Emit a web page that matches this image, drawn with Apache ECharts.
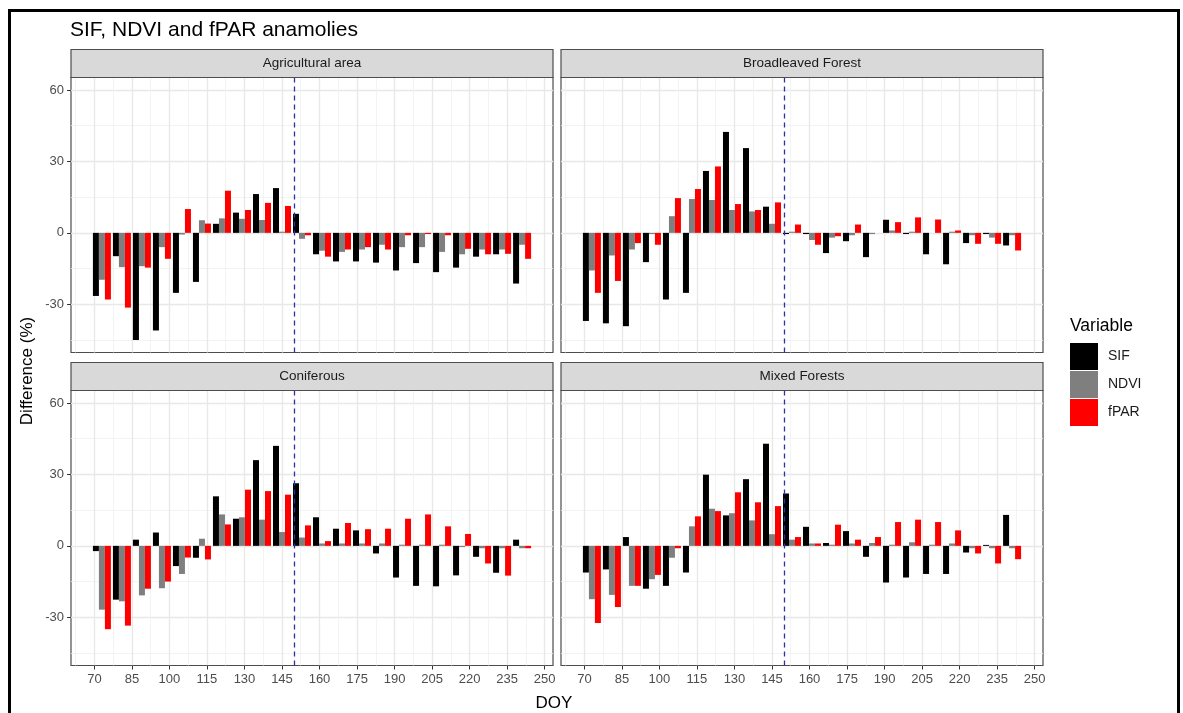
<!DOCTYPE html>
<html>
<head>
<meta charset="utf-8">
<script src="https://cdn.jsdelivr.net/npm/echarts@6/dist/echarts.min.js"></script>
<style>
  html, body { margin: 0; padding: 0; background: #fff; }
  #chart { width: 1183px; height: 713px; }
</style>
</head>
<body>
<div id="chart"></div>
<script>
// 8-day composite start days (DOY)
const doy = [73, 81, 89, 97, 105, 113, 121, 129, 137, 145, 153, 161, 169, 177, 185, 193, 201, 209, 217, 225, 233, 241];

// Anomalies (%) per land-cover class
const agSIF  = [-26.5, -9.8, -45, -41, -25.2, -20.6, 3.8, 8.5, 16.3, 18.8, 8, -9, -12, -12, -12.5, -15.8, -12.7, -16.5, -14.6, -10, -9, -21.3];
const agNDVI = [-19.7, -14.4, -14, -6, -0.7, 5.3, 6.1, 5.9, 5.4, 0.5, -2.5, -7.5, -8, -7, -5, -6, -6, -8, -9, -7, -7, -5];
const agFPAR = [-28, -31.4, -14.6, -10.9, 10, 3.9, 17.7, 9.6, 12.6, 11.3, -1, -10, -7, -6, -7, -1, -0.5, -1, -6.7, -9, -8.8, -10.9];

const blSIF  = [-37, -38, -39.2, -12.3, -28, -25.2, 26, 42.4, 35.6, 11, -0.5, -0.5, -8.5, -3.5, -10.2, 5.5, -0.5, -9, -13.2, -4.3, -0.5, -5.3];
const blNDVI = [-15.8, -9.5, -7, -0.5, 7, 14.2, 13.8, 9.6, 9, 3.8, 0.5, -3, -2, -1, -0.5, 1, 0.5, 0, 0.5, -1, -2, -1];
const blFPAR = [-25.2, -20.2, -4.3, -5, 14.6, 18.4, 27.9, 12.1, 9.6, 12.8, 3.5, -5, -1.4, 3.5, 0, 4.5, 6.5, 5.6, 1, -4.6, -4.6, -7.4];

const cfSIF  = [-2.2, -22.6, 2.6, 5.6, -8.5, -5, 20.8, 11.4, 36, 42, 26.3, 12, 7.2, 6.5, -3.2, -13.3, -16.8, -17, -12.4, -4.6, -11.3, 2.6];
const cfNDVI = [-26.8, -23.3, -20.8, -17.8, -11.8, 3, 13.2, 12, 11, 5.8, 3.5, 1, 1, 1, 1, 0.5, 0.5, 0.5, -0.5, -1, -1, -1];
const cfFPAR = [-35, -33.5, -18, -15, -4.9, -5.7, 9, 23.6, 23, 21.5, 8.6, 2, 9.6, 7, 7.2, 11.4, 13.2, 8.2, 5, -7.4, -12.5, -1];

const mxSIF  = [-11.2, -9.9, 3.7, -18, -16.8, -11.2, 29.9, 12.8, 28, 42.9, 22, 8, 1.2, 6.2, -4.6, -15.4, -13.3, -11.8, -11.8, -2.8, 0.4, 13];
const mxNDVI = [-22.4, -20.6, -16.8, -14, -5, 8.2, 15.6, 13.7, 10.7, 4.9, 2.6, 1, 0.5, 1, 1.2, 0.5, 1.5, 0.5, 1, -1, -1, -1];
const mxFPAR = [-32.4, -25.7, -16.8, -12.2, -1, 12.4, 14.6, 22.5, 18.3, 16.7, 3.7, 1, 8.9, 2.6, 3.7, 10, 11, 10, 6.5, -3.2, -7.4, -5.6];

const facetNames = ['Agricultural area', 'Broadleaved Forest', 'Coniferous', 'Mixed Forests'];
const variables = ['SIF', 'NDVI', 'fPAR'];
const eventDOY = 150;

// axis breaks
const xTicks = [70, 85, 100, 115, 130, 145, 160, 175, 190, 205, 220, 235, 250];
const xMinor = [62.5, 77.5, 92.5, 107.5, 122.5, 137.5, 152.5, 167.5, 182.5, 197.5, 212.5, 227.5, 242.5];
const yTicks = [-30, 0, 30, 60];
const yMinor = [-45, -15, 15, 45];

const facetData = [
  [agSIF, agNDVI, agFPAR],
  [blSIF, blNDVI, blFPAR],
  [cfSIF, cfNDVI, cfFPAR],
  [mxSIF, mxNDVI, mxFPAR]
];

// ---- styling / layout ----
const FONT = '"Liberation Sans", Arial, Helvetica, sans-serif';
const colors = ['#000000', '#7f7f7f', '#ff0000'];
const xRange = [60.64, 253.36];
const yRange = [-50.25, 65.25];
const groupWidth = 7.2;                  // dodge width in DOY units
const barW = groupWidth / variables.length;
const panelW = 482, panelH = 275, stripH = 28;
const panels = [
  { left: 71,  top: 77.5,  bottom: false, leftCol: true },
  { left: 561, top: 77.5,  bottom: false, leftCol: false },
  { left: 71,  top: 390.5, bottom: true,  leftCol: true },
  { left: 561, top: 390.5, bottom: true,  leftCol: false }
];

const grids = [], xAxes = [], yAxes = [], series = [], graphics = [];

panels.forEach((p, i) => {
  grids.push({
    left: p.left, top: p.top, width: panelW, height: panelH,
    show: true, backgroundColor: '#ffffff', borderColor: '#4d4d4d', borderWidth: 1.2
  });

  // minor grid lines (drawn first)
  xAxes.push({
    type: 'value', gridIndex: i, min: xRange[0], max: xRange[1], position: 'bottom',
    axisLine: { show: false, onZero: false },
    axisTick: { show: false, customValues: xMinor },
    axisLabel: { show: false, customValues: xMinor },
    splitLine: { show: true, lineStyle: { color: '#f0f0f0', width: 0.8 } }
  });
  // major axis
  xAxes.push({
    type: 'value', gridIndex: i, min: xRange[0], max: xRange[1], position: 'bottom',
    axisLine: { show: false, onZero: false },
    axisTick: { show: p.bottom, customValues: xTicks, length: 4, lineStyle: { color: '#333', width: 1 } },
    axisLabel: { show: p.bottom, customValues: xTicks, color: '#4d4d4d', fontSize: 13, fontFamily: FONT, margin: 7 },
    splitLine: { show: true, lineStyle: { color: '#e8e8e8', width: 1.4 } }
  });
  yAxes.push({
    type: 'value', gridIndex: i, min: yRange[0], max: yRange[1], position: 'left',
    axisLine: { show: false, onZero: false },
    axisTick: { show: false, customValues: yMinor },
    axisLabel: { show: false, customValues: yMinor },
    splitLine: { show: true, lineStyle: { color: '#f0f0f0', width: 0.8 } }
  });
  yAxes.push({
    type: 'value', gridIndex: i, min: yRange[0], max: yRange[1], position: 'left',
    axisLine: { show: false, onZero: false },
    axisTick: { show: p.leftCol, customValues: yTicks, length: 4, lineStyle: { color: '#333', width: 1 } },
    axisLabel: { show: p.leftCol, customValues: yTicks, color: '#4d4d4d', fontSize: 13, fontFamily: FONT, margin: 7 },
    splitLine: { show: true, lineStyle: { color: '#e8e8e8', width: 1.4 } }
  });

  const xa = 2 * i + 1, ya = 2 * i + 1;

  variables.forEach((name, j) => {
    const offset = (j - (variables.length - 1) / 2) * barW;
    const vals = facetData[i][j];
    series.push({
      type: 'custom', name: name, xAxisIndex: xa, yAxisIndex: ya, z: 3,
      itemStyle: { color: colors[j] },
      data: doy.map((d, k) => [d + offset, vals[k]]),
      renderItem: (params, api) => {
        const x = api.value(0), v = api.value(1);
        const a = api.coord([x - barW / 2, 0]);
        const b = api.coord([x + barW / 2, v]);
        return {
          type: 'rect',
          shape: { x: a[0], y: Math.min(a[1], b[1]), width: b[0] - a[0], height: Math.abs(b[1] - a[1]) },
          style: { fill: colors[j] }
        };
      }
    });
  });

  // dashed reference line
  series.push({
    type: 'line', name: 'event', xAxisIndex: xa, yAxisIndex: ya, z: 5,
    data: [[eventDOY, yRange[0]], [eventDOY, yRange[1]]],
    symbol: 'none', silent: true,
    lineStyle: { color: '#2e2ea6', width: 1.3, type: [5, 4] }
  });

  // facet strip
  graphics.push({
    type: 'rect', z: 10,
    shape: { x: p.left, y: p.top - stripH, width: panelW, height: stripH },
    style: { fill: '#d9d9d9', stroke: '#4d4d4d', lineWidth: 1.2 }
  });
  graphics.push({
    type: 'text', z: 11,
    x: p.left + panelW / 2, y: p.top - stripH / 2,
    style: { text: facetNames[i], fill: '#1a1a1a', font: '13.5px ' + FONT, align: 'center', verticalAlign: 'middle' }
  });
});

// titles and frame
graphics.push(
  { type: 'text', x: 70, y: 30, style: { text: 'SIF, NDVI and fPAR anamolies', fill: '#000', font: '21px ' + FONT, verticalAlign: 'middle' } },
  { type: 'text', x: 554, y: 703, style: { text: 'DOY', fill: '#000', font: '17px ' + FONT, align: 'center', verticalAlign: 'middle' } },
  { type: 'text', x: 27, y: 371, rotation: Math.PI / 2,
    style: { text: 'Difference (%)', fill: '#000', font: '17px ' + FONT, align: 'center', verticalAlign: 'middle' } },
  { type: 'text', x: 1070, y: 326, style: { text: 'Variable', fill: '#000', font: '17.5px ' + FONT, verticalAlign: 'middle' } },
  { type: 'rect', z: 20, shape: { x: 9.5, y: 10.5, width: 1169, height: 720 },
    style: { fill: 'none', stroke: '#000', lineWidth: 3 } }
);

const chart = echarts.init(document.getElementById('chart'), null, { renderer: 'canvas' });
chart.setOption({
  animation: false,
  backgroundColor: '#ffffff',
  textStyle: { fontFamily: FONT },
  grid: grids,
  xAxis: xAxes,
  yAxis: yAxes,
  legend: {
    data: variables, orient: 'vertical', left: 1070, top: 343,
    itemWidth: 28, itemHeight: 27, itemGap: 1, icon: 'rect', selectedMode: false, padding: 0,
    textStyle: { fontSize: 14, color: '#1a1a1a', fontFamily: FONT, padding: [0, 0, 0, 5] }
  },
  series: series,
  graphic: graphics
});
</script>
</body>
</html>
